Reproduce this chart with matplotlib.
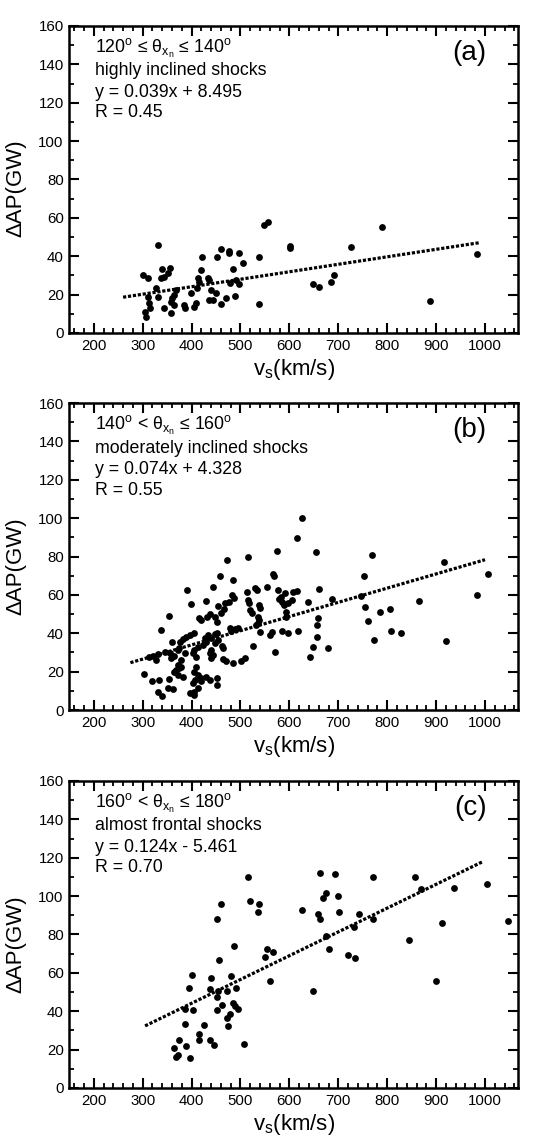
import numpy as np
import matplotlib
matplotlib.use("Agg")
import matplotlib.pyplot as plt
from matplotlib.ticker import MultipleLocator

plt.rcParams['font.family'] = ['Liberation Sans', 'DejaVu Sans']
plt.rcParams['mathtext.fontset'] = 'custom'
plt.rcParams['mathtext.rm'] = 'Liberation Sans'
plt.rcParams['mathtext.it'] = 'Liberation Sans:italic'
plt.rcParams['mathtext.bf'] = 'Liberation Sans:bold'

# (a) highly inclined shocks
vs_a = [332, 300, 310, 340, 356, 351, 344, 338, 327, 331,
        310, 314, 316, 304, 307, 344, 358, 361, 365, 358,
        368, 365, 385, 387, 399, 406, 409, 412, 416, 414,
        419, 422, 433, 436, 440, 436, 443, 450, 452, 461,
        461, 470, 476, 477, 479, 485, 491, 489, 496, 498,
        506, 537, 537, 548, 556, 601, 601, 649, 660, 685,
        691, 725, 789, 888, 984]
dap_a = [45.7, 30.2, 28.5, 33.3, 34.0, 31.0, 29.3, 28.5, 23.3, 18.9,
         18.9, 15.5, 12.9, 11.1, 8.5, 12.9, 10.2, 18.0, 19.8, 16.3,
         22.5, 14.6, 14.6, 12.9, 20.7, 13.7, 15.5, 23.3, 26.7, 28.5,
         32.8, 39.7, 28.5, 27.6, 22.4, 17.2, 17.2, 20.7, 39.7, 43.8,
         14.9, 18.0, 42.9, 41.5, 25.9, 33.2, 27.6, 19.3, 41.5, 25.4,
         36.6, 39.4, 14.9, 56.3, 57.6, 45.4, 44.2, 25.4, 23.7, 26.4,
         30.4, 44.9, 55.3, 16.5, 41.4]

# (b) moderately inclined shocks
vs_b = [458, 567, 569, 485, 391, 444, 529, 533, 555, 576,
        592, 608, 583, 579, 399, 430, 483, 487, 468, 476,
        454, 514, 516, 518, 538, 540, 520, 523, 584, 588,
        598, 605, 594, 594, 466, 461, 447, 453, 437, 432,
        420, 416, 353, 338, 536, 538, 535, 540, 532, 564,
        560, 584, 598, 526, 570, 478, 481, 488, 495, 453,
        447, 434, 439, 427, 406, 396, 389, 382, 377, 360,
        423, 430, 447, 454, 462, 464, 440, 437, 444, 440,
        413, 406, 403, 410, 386, 372, 375, 355, 357, 365,
        345, 331, 321, 314, 327, 464, 471, 485, 502, 509,
        379, 372, 375, 369, 379, 365, 372, 382, 410, 406,
        413, 420, 408, 403, 413, 430, 437, 451, 451, 303,
        319, 334, 353, 351, 331, 339, 362, 396, 406, 405,
        420, 473, 516, 575, 616, 625, 616, 618, 638, 655,
        661, 658, 657, 657, 649, 642, 678, 688, 746, 753,
        755, 760, 769, 773, 786, 805, 808, 829, 864, 916,
        920, 983, 1007]
dap_b = [70.1, 71.0, 69.6, 67.8, 62.6, 64.3, 63.5, 62.6, 64.0, 62.3,
         60.9, 61.7, 59.0, 57.7, 55.3, 57.0, 59.7, 58.3, 55.7, 56.5,
         54.4, 61.7, 57.4, 55.7, 54.8, 53.0, 52.2, 50.4, 56.5, 54.8,
         55.7, 57.4, 51.3, 48.7, 52.5, 50.4, 48.7, 46.0, 50.0, 48.7,
         47.0, 47.8, 49.2, 41.7, 48.7, 47.0, 45.2, 40.9, 44.3, 40.9,
         39.1, 41.2, 40.0, 33.6, 30.4, 42.6, 41.2, 42.0, 42.6, 40.3,
         39.7, 39.1, 37.4, 37.4, 40.0, 39.1, 38.3, 37.0, 35.6, 35.6,
         33.9, 35.6, 34.8, 36.5, 33.4, 32.2, 31.3, 29.6, 28.7, 27.0,
         33.0, 31.3, 29.6, 27.5, 29.6, 31.3, 32.5, 29.6, 27.0, 28.2,
         30.4, 29.0, 28.2, 27.5, 26.0, 26.4, 25.7, 24.7, 25.7, 27.0,
         26.0, 23.5, 21.7, 20.9, 22.6, 20.0, 18.3, 17.4, 22.6, 20.0,
         18.3, 16.5, 15.7, 13.9, 11.3, 17.4, 15.7, 16.5, 13.0, 18.8,
         15.3, 15.7, 16.0, 11.3, 9.6, 7.3, 10.8, 9.0, 7.8, 9.6,
         15.3, 78.3, 79.5, 83.0, 89.6, 100.0, 62.1, 41.4, 56.2, 82.3,
         63.3, 47.7, 44.3, 37.9, 33.0, 27.7, 32.3, 58.1, 59.5, 69.9,
         53.9, 46.6, 80.7, 36.3, 51.1, 52.5, 41.2, 40.0, 56.9, 77.0,
         36.2, 59.7, 70.8]

# (c) almost frontal shocks
vs_c = [516, 519, 537, 536, 461, 452, 487, 456, 550, 554,
        566, 561, 401, 395, 439, 438, 454, 452, 473, 481,
        490, 463, 485, 488, 495, 453, 386, 403, 478, 472,
        475, 386, 425, 415, 415, 437, 446, 375, 364, 388,
        368, 373, 397, 508, 626, 663, 659, 663, 668, 674,
        699, 693, 702, 675, 681, 719, 735, 733, 743, 770,
        770, 648, 844, 856, 870, 899, 912, 936, 1005, 1046]
dap_c = [110.0, 97.7, 95.7, 91.5, 95.8, 87.9, 74.2, 66.7, 68.1, 72.4,
         70.7, 55.6, 59.1, 52.0, 57.5, 51.6, 50.8, 47.3, 50.6, 58.2,
         52.0, 43.3, 44.2, 42.5, 41.1, 40.7, 41.2, 40.7, 38.6, 36.4,
         32.4, 33.3, 32.8, 28.2, 25.1, 24.8, 22.5, 24.8, 20.6, 22.0,
         16.3, 17.2, 15.6, 23.1, 92.9, 112.3, 90.5, 88.2, 99.1, 101.4,
         100.3, 111.4, 91.9, 79.4, 72.3, 69.5, 67.8, 83.7, 90.8, 109.9,
         87.9, 50.4, 77.1, 110.2, 103.6, 55.6, 85.8, 104.2, 106.1, 87.2]

# fits: slope, intercept, x extent of the dotted line
fits = [(0.039, 8.495, 260, 990), (0.074, 4.328, 275, 1000), (0.124, -5.461, 305, 995)]
angle_txt = [r"120$^{\mathrm{o}}$ ≤ θ$_{\mathrm{x_n}}$ ≤ 140$^{\mathrm{o}}$",
             r"140$^{\mathrm{o}}$ < θ$_{\mathrm{x_n}}$ ≤ 160$^{\mathrm{o}}$",
             r"160$^{\mathrm{o}}$ < θ$_{\mathrm{x_n}}$ ≤ 180$^{\mathrm{o}}$"]
kind_txt = ["highly inclined shocks", "moderately inclined shocks", "almost frontal shocks"]
eq_txt = ["y = 0.039x + 8.495", "y = 0.074x + 4.328", "y = 0.124x - 5.461"]
r_txt = ["R = 0.45", "R = 0.55", "R = 0.70"]
panel_lbl = ["(a)", "(b)", "(c)"]

data = [(vs_a, dap_a), (vs_b, dap_b), (vs_c, dap_c)]

fig = plt.figure(figsize=(5.4, 11.45), dpi=100)
bottoms = [0.7092, 0.3799, 0.0498]
H = 307 / 1145

for k in range(3):
    ax = fig.add_axes([0.1283, bottoms[k], 0.8315, H])
    x, y = data[k]
    ax.plot(x, y, 'o', color='black', markersize=4.9, markeredgewidth=0)
    m, b, x0, x1 = fits[k]
    xf = np.array([x0, x1])
    ax.plot(xf, m * xf + b, color='black', lw=2.3, linestyle=(0, (1, 0.55)))

    ax.set_xlim(150, 1068)
    ax.set_ylim(0, 160)
    ax.xaxis.set_major_locator(MultipleLocator(100))
    ax.xaxis.set_minor_locator(MultipleLocator(20))
    ax.yaxis.set_major_locator(MultipleLocator(20))
    ax.yaxis.set_minor_locator(MultipleLocator(10))
    ax.set_xticks([200, 300, 400, 500, 600, 700, 800, 900, 1000])
    ax.tick_params(which='both', direction='in', top=True, right=True, labelsize=10.8, pad=4)
    ax.tick_params(which='major', length=7, width=1.5)
    ax.tick_params(which='minor', length=3.5, width=1.3)
    for s in ax.spines.values():
        s.set_linewidth(1.8)

    ax.set_ylabel("ΔAP(GW)", fontsize=16, labelpad=2)
    ax.yaxis.set_label_coords(-0.095, 0.47)
    ax.set_xlabel(r"v$_{\mathrm{s}}$(km/s)", fontsize=16, labelpad=3)

    lines = [angle_txt[k], kind_txt[k], eq_txt[k], r_txt[k]]
    offs = [22, 45, 66.5, 87]
    for t, o in zip(lines, offs):
        ax.text(0.057, 1 - o / 307, t, transform=ax.transAxes, fontsize=12.8,
                ha='left', va='center')
    ax.text(0.93, 0.913, panel_lbl[k], transform=ax.transAxes, fontsize=20,
            ha='right', va='center')

fig.savefig("out.png", dpi=100)
